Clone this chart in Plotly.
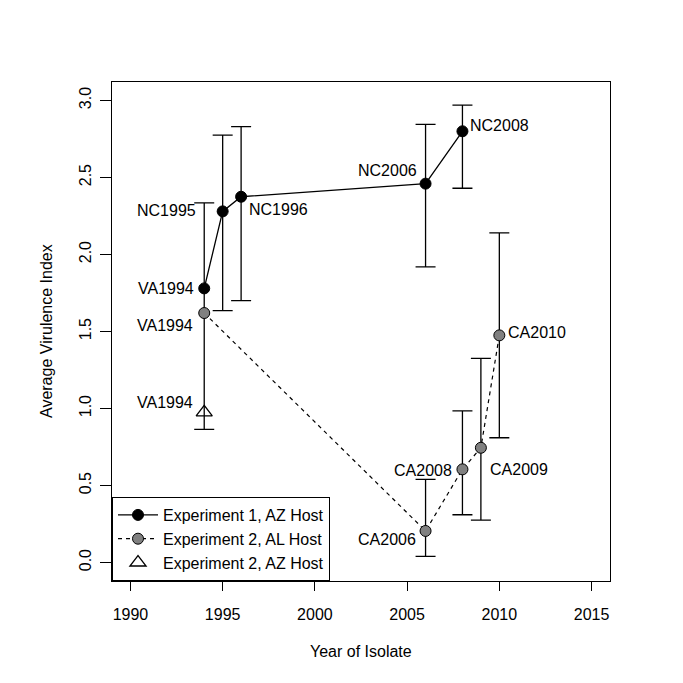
import plotly.graph_objects as go

# ---- data ----
exp1_years = [1994, 1995, 1996, 2006, 2008]
exp1_vals = [1.78, 2.28, 2.375, 2.46, 2.80]
exp1_upper = [None, 2.775, 2.83, 2.845, 2.97]
exp1_lower = [None, 1.635, 1.70, 1.92, 2.43]
exp1_labels = ["VA1994", "NC1995", "NC1996", "NC2006", "NC2008"]

exp2_years = [1994, 2006, 2008, 2009, 2010]
exp2_vals = [1.62, 0.205, 0.605, 0.745, 1.475]
exp2_upper = [2.335, 0.54, 0.985, 1.325, 2.14]
exp2_lower = [0.865, 0.04, 0.31, 0.275, 0.81]
exp2_labels = ["VA1994", "CA2006", "CA2008", "CA2009", "CA2010"]

exp3_years = [1994]
exp3_vals = [0.975]
exp3_labels = ["VA1994"]

x_ticks = [1990, 1995, 2000, 2005, 2010, 2015]
y_ticks = [0.0, 0.5, 1.0, 1.5, 2.0, 2.5, 3.0]
y_ticklabels = ["0.0", "0.5", "1.0", "1.5", "2.0", "2.5", "3.0"]

# ---- label placement (pixel offsets, anchor) ----
exp1_lab_pos = [("right", -8, 0), ("right", -25, 1), ("left", 6, -13), ("right", -7, 13), ("left", 6, 6)]
exp2_lab_pos = [("right", -9, -12), ("right", -8, -9), ("right", -8, -1), ("left", 7, -22), ("left", 7, 3)]
exp3_lab_pos = [("right", -9, 10)]

FONT = "Liberation Sans, Arial, sans-serif"

# page is offset by the 8px default body margin
OFF = 8
W, H = 683 - OFF, 683 - OFF
L, R, T, B = 112 - OFF, 73, 82 - OFF, 102
pw, ph = W - L - R, H - T - B


def page_to_paper(px, py):
    return (px - OFF - L) / pw, (H - B - (py - OFF)) / ph


fig = go.Figure()

# error bars (drawn first, beneath the markers)
for xs, vs, up, lo in [(exp1_years, exp1_vals, exp1_upper, exp1_lower),
                       (exp2_years, exp2_vals, exp2_upper, exp2_lower)]:
    sel = [i for i in range(len(xs)) if up[i] is not None]
    fig.add_trace(go.Scatter(
        x=[xs[i] for i in sel], y=[vs[i] for i in sel], mode="markers", showlegend=False,
        hoverinfo="skip", marker=dict(size=1, color="rgba(0,0,0,0)"),
        error_y=dict(type="data", symmetric=False,
                     array=[up[i] - vs[i] for i in sel],
                     arrayminus=[vs[i] - lo[i] for i in sel],
                     color="black", thickness=1.3, width=10),
    ))

fig.add_trace(go.Scatter(
    x=exp2_years, y=exp2_vals, mode="lines+markers", name="Experiment 2, AL Host",
    legendrank=2,
    line=dict(color="black", width=1.2, dash="4px,4px"),
    marker=dict(size=11, color="#808080", line=dict(color="black", width=1)),
))
fig.add_trace(go.Scatter(
    x=exp1_years, y=exp1_vals, mode="lines+markers", name="Experiment 1, AZ Host",
    legendrank=1,
    line=dict(color="black", width=1.3),
    marker=dict(size=11, color="black", line=dict(color="black", width=1)),
))
fig.add_trace(go.Scatter(
    x=exp3_years, y=exp3_vals, mode="markers", name="Experiment 2, AZ Host",
    legendrank=3,
    marker=dict(size=14, symbol="triangle-up-open", color="black", line=dict(width=1.3)),
))

annotations = []
for xs, ys, labs, pos in [(exp1_years, exp1_vals, exp1_labels, exp1_lab_pos),
                          (exp2_years, exp2_vals, exp2_labels, exp2_lab_pos),
                          (exp3_years, exp3_vals, exp3_labels, exp3_lab_pos)]:
    for x, y, t, (anc, dx, dy) in zip(xs, ys, labs, pos):
        annotations.append(dict(x=x, y=y, xref="x", yref="y", text=t, showarrow=False,
                                xanchor=anc, yanchor="middle", xshift=dx, yshift=dy,
                                font=dict(size=16, color="black", family=FONT)))

tx, ty = page_to_paper(361, 651)
annotations.append(dict(x=tx, y=ty, xref="paper", yref="paper", text="Year of Isolate",
                        xanchor="center", yanchor="middle", showarrow=False,
                        font=dict(size=16, color="black", family=FONT)))
tx, ty = page_to_paper(46, 331)
annotations.append(dict(x=tx, y=ty, xref="paper", yref="paper", text="Average Virulence Index",
                        xanchor="center", yanchor="middle", showarrow=False, textangle=-90,
                        font=dict(size=16, color="black", family=FONT)))

fig.update_layout(
    width=W, height=H,
    margin=dict(l=L, r=R, t=T, b=B),
    paper_bgcolor="white", plot_bgcolor="white",
    font=dict(family=FONT, size=16, color="black"),
    showlegend=True,
    legend=dict(x=0, y=0, xanchor="left", yanchor="bottom", bgcolor="white",
                bordercolor="black", borderwidth=1, font=dict(size=16, family=FONT),
                traceorder="normal", itemwidth=40, tracegroupgap=0),
    annotations=annotations,
)
fig.update_xaxes(range=[1989, 2016], tickvals=x_ticks, ticks="outside", ticklen=9,
                 ticklabelstandoff=10, automargin=False,
                 tickcolor="black", showline=True, linecolor="black", linewidth=1,
                 mirror=True, showgrid=False, zeroline=False,
                 tickfont=dict(size=16, family=FONT))
fig.update_yaxes(range=[-0.12, 3.12], tickvals=y_ticks, ticktext=y_ticklabels,
                 ticks="outside", ticklen=11, tickangle=-90, ticklabelstandoff=3,
                 automargin=False,
                 tickcolor="black", showline=True, linecolor="black", linewidth=1,
                 mirror=True, showgrid=False, zeroline=False,
                 tickfont=dict(size=16, family=FONT))

fig.write_html("out.html")
